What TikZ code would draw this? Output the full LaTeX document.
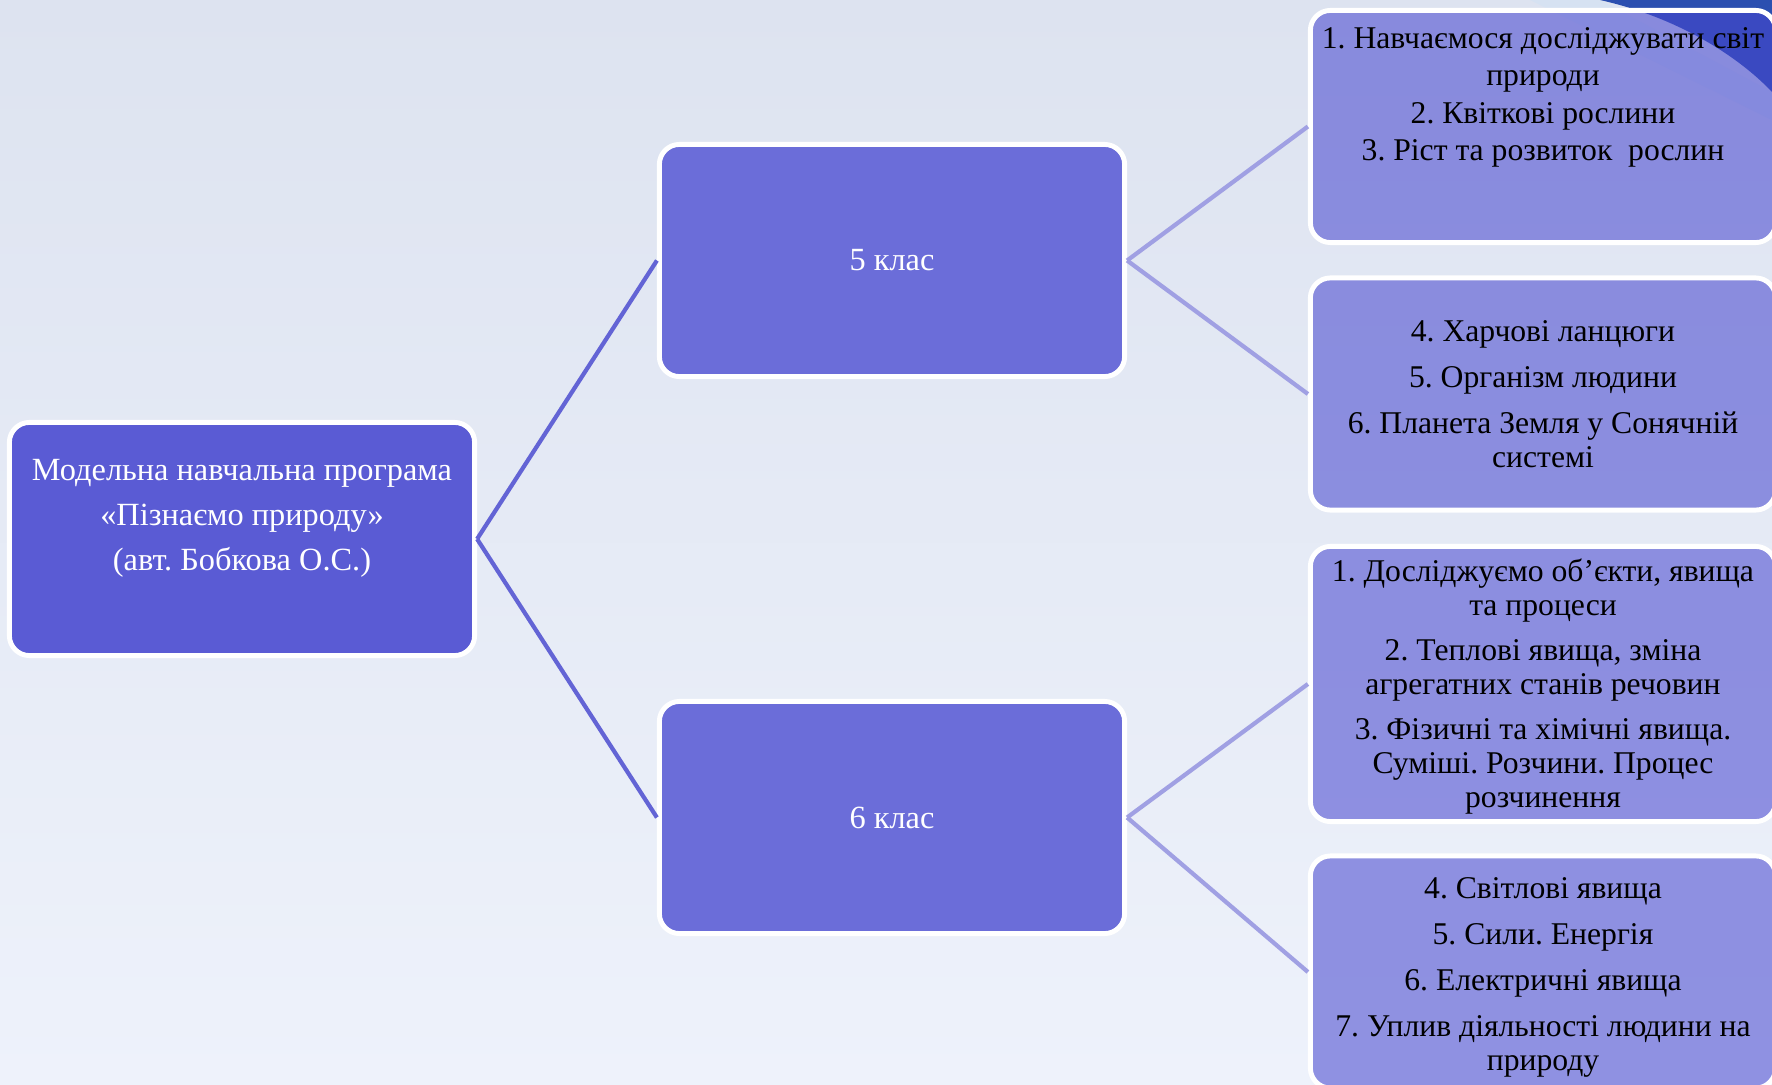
\documentclass[tikz,border=0pt]{standalone}
\usepackage{fontspec}
\setmainfont{Liberation Serif}
\usepackage{xcolor}
\usetikzlibrary{positioning}
\frenchspacing

\definecolor{bgtop}{HTML}{DDE3F0}
\definecolor{bgmid}{HTML}{E8ECF7}
\definecolor{bgbot}{HTML}{EEF2FB}
\definecolor{rootblue}{HTML}{5A5BD4}
\definecolor{classblue}{HTML}{6B6DD9}
\definecolor{leafblue}{HTML}{4646CF}
\definecolor{linedark}{HTML}{6364D5}
\definecolor{linelight}{HTML}{A0A0E3}
\definecolor{stripedark}{HTML}{2B4FB0}
\definecolor{stripelight}{HTML}{D6E2F2}

\begin{document}
\begin{tikzpicture}[x=0.01cm, y=-0.01cm,
  box/.style={draw=white, line width=1.4pt, rounded corners=0.2cm,
    minimum width=4.65cm, minimum height=2.32cm, inner sep=0pt},
  rootbox/.style={box, fill=rootblue, minimum height=2.33cm},
  classbox/.style={box, fill=classblue, text=white,
    font=\fontsize{9.2}{12.8}\selectfont},
  leafbox/.style={box, fill=leafblue, fill opacity=0.56, text opacity=1,
    align=center, font=\fontsize{9}{9.65}\selectfont},
  roottext/.style={text=white, align=center, inner sep=0pt,
    font=\fontsize{9.2}{12.8}\selectfont},
  leaftext/.style={align=center, inner sep=0pt,
    font=\fontsize{9}{10.6}\selectfont},
  trunk/.style={draw=linedark, line width=1.2pt},
  twig/.style={draw=linelight, line width=1.2pt}]

% background of the slide
\useasboundingbox (0,0) rectangle (1772,1085);
\shade[top color=bgtop, middle color=bgmid, bottom color=bgbot] (0,0) rectangle (1772,1085);
\fill[stripelight] (1530,0) -- (1600,0) -- (1772,92) -- (1772,120) -- cycle;
\fill[stripedark] (1600,0) .. controls (1680,18) and (1740,58) .. (1772,92) -- (1772,0) -- cycle;

% the programme
\node[rootbox] (root) at (242,539) {};
\node[roottext, below=0.39cm of root.north] (roottxt)
  {Модельна навчальна програма\\«Пізнаємо природу»\\(авт. Бобкова О.С.)};

% the two classes
\node[classbox] (c5) at (892,260.5) {5 клас};
\node[classbox] (c6) at (892,817.5) {6 клас};

% topics of each class
\node[leafbox] (l1) at (1543,126.5) {};
\node[leaftext, below=0.19cm of l1.north] (l1txt)
  {1. Навчаємося досліджувати світ\\природи\\2. Квіткові рослини\\3. Ріст та розвиток~ рослин};
\node[leafbox] (l2) at (1543,394)
  {4. Харчові ланцюги\\[3.4pt]5. Організм людини\\[3.4pt]6. Планета Земля у Сонячній\\системі};
\node[leafbox, minimum height=2.75cm] (l3) at (1543,684)
  {\rule{0pt}{8pt}1. Досліджуємо об'єкти, явища\\та процеси\\[3.2pt]2. Теплові явища, зміна\\агрегатних станів речовин\\[3.2pt]3. Фізичні та хімічні явища.\\Суміші. Розчини. Процес\\розчинення};
\node[leafbox] (l4) at (1543,972)
  {\rule{0pt}{9pt}4. Світлові явища\\[3.4pt]5. Сили. Енергія\\[3.4pt]6. Електричні явища\\[3.4pt]7. Уплив діяльності людини на\\природу};

% connectors
\draw[trunk] (root.east) -- (c5.west);
\draw[trunk] (root.east) -- (c6.west);
\draw[twig] (c5.east) -- (l1.west);
\draw[twig] (c5.east) -- (l2.west);
\draw[twig] (c6.east) -- (l3.west);
\draw[twig] (c6.east) -- (l4.west);

\end{tikzpicture}
\end{document}
